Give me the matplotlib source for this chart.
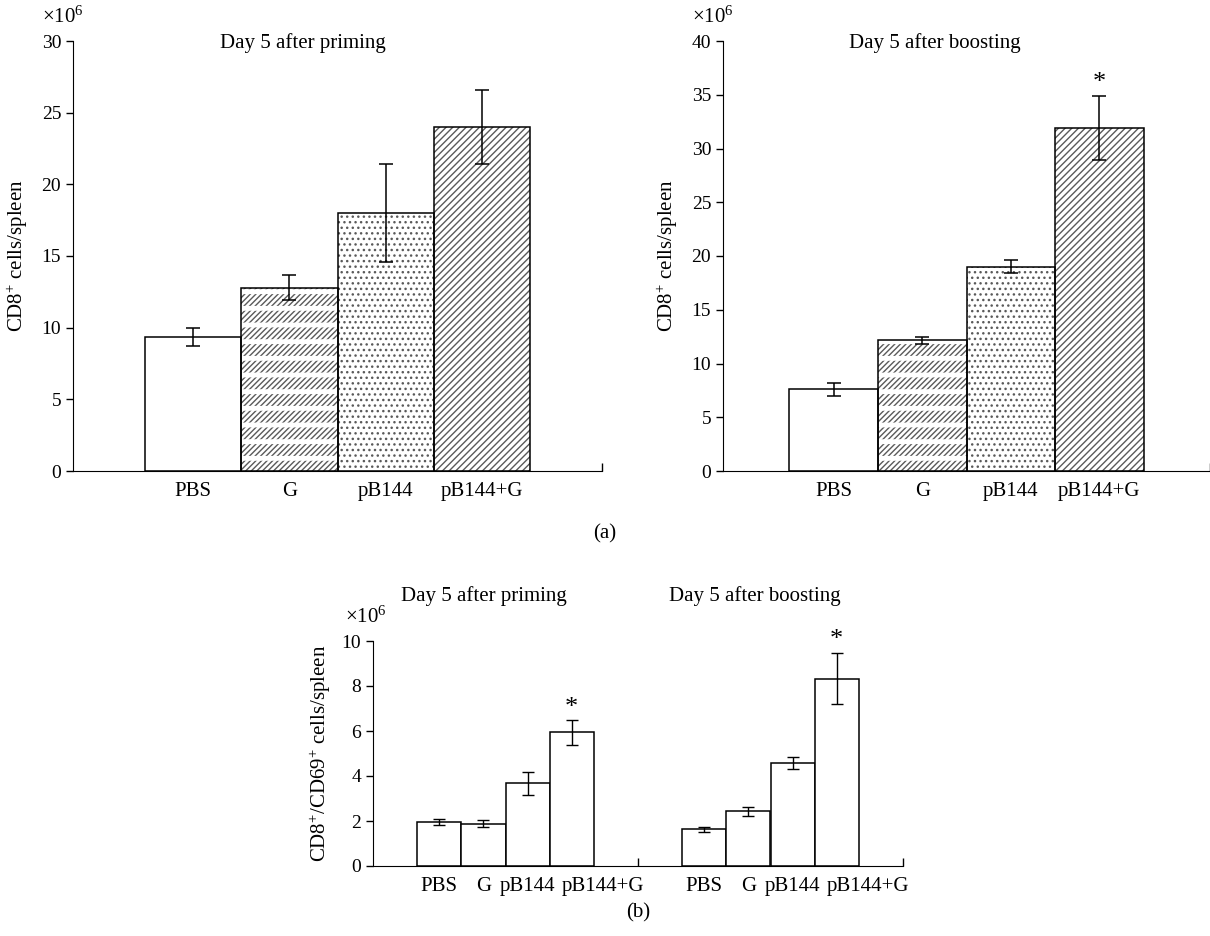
import matplotlib.pyplot as plt
import matplotlib.transforms as mtransforms
import numpy as np

plt.rcParams['font.family'] = ['Liberation Serif', 'DejaVu Serif']
plt.rcParams['mathtext.fontset'] = 'custom'
plt.rcParams['mathtext.rm'] = 'Liberation Serif'
plt.rcParams['mathtext.it'] = 'Liberation Serif:italic'
plt.rcParams['font.size'] = 15
plt.rcParams['ytick.labelsize'] = 14
plt.rcParams['hatch.linewidth'] = 1.0

# groups on the x axis
groups = ['PBS', 'G', 'pB144', 'pB144+G']

# (a) CD8+ cells per spleen (x10^6)
prime_cd8 = [9.35, 12.8, 18.0, 24.0]
prime_cd8_err = [0.6, 0.9, 3.4, 2.6]
boost_cd8 = [7.6, 12.15, 19.0, 31.9]
boost_cd8_err = [0.6, 0.3, 0.6, 3.0]

# (b) CD8+/CD69+ cells per spleen (x10^6)
prime_cd69 = [1.95, 1.88, 3.67, 5.94]
prime_cd69_err = [0.12, 0.15, 0.5, 0.55]
boost_cd69 = [1.63, 2.43, 4.57, 8.33]
boost_cd69_err = [0.11, 0.19, 0.28, 1.15]

hatch_colour = '#5a5a5a'


def style_axes(ax):
    ax.spines['top'].set_visible(False)
    ax.spines['right'].set_visible(False)
    ax.tick_params(axis='y', direction='out', length=5, width=1)
    ax.tick_params(axis='x', which='major', length=0, pad=8)
    ax.tick_params(axis='x', which='minor', direction='in', length=6, width=1)


def scale_label(ax, dx, dy):
    ax.annotate(r'$\times10^6$', (0, 1), xycoords='axes fraction',
                xytext=(dx, dy), textcoords='offset pixels',
                ha='center', va='center')


def add_star(ax, x, top):
    ax.annotate('*', (x, top), xytext=(0, 1), textcoords='offset points',
                ha='center', va='bottom', fontsize=19)


def cd8_panel(ax, values, errors, ymax, title, star):
    x = np.arange(1, 5)
    ax.bar(x, values, width=1, color='white', linewidth=0)
    # G: rows of short diagonal dashes
    ax.bar(x[1], values[1], width=1, fill=False, hatch='//////',
           edgecolor=hatch_colour, linewidth=0)
    gaps = ax.bar(x[1], values[1], width=1, fill=False, hatch='-',
                  edgecolor='white', linewidth=0)
    gaps[0].set_hatch_linewidth(3.5)
    # pB144: dots
    ax.bar(x[2], values[2], width=1, fill=False, hatch='...',
           edgecolor=hatch_colour, linewidth=0)
    # pB144+G: dense diagonal lines
    ax.bar(x[3], values[3], width=1, fill=False, hatch='/////',
           edgecolor=hatch_colour, linewidth=0)
    ax.bar(x, values, width=1, fill=False, edgecolor='black', linewidth=1.1)
    ax.errorbar(x, values, yerr=errors, fmt='none', ecolor='black',
                elinewidth=1.1, capsize=5, capthick=1.1)
    if star:
        add_star(ax, x[3], values[3] + errors[3])
    ax.set_xlim(-0.25, 5.25)
    ax.set_ylim(0, ymax)
    ax.set_yticks(np.arange(0, ymax + 1, 5))
    ax.set_xticks(x)
    ax.set_xticklabels(groups)
    ax.set_xticks([5.25], minor=True)
    ax.set_ylabel(r'CD8$^{+}$ cells/spleen', labelpad=8)
    ax.text(0.435, 0.995, title, transform=ax.transAxes, ha='center', va='center')
    style_axes(ax)
    scale_label(ax, -10, 24)


fig = plt.figure(figsize=(12.1, 9.36), dpi=100)

ax1 = fig.add_axes([73 / 1210, 465 / 936, 529 / 1210, 430 / 936])
cd8_panel(ax1, prime_cd8, prime_cd8_err, 30, 'Day 5 after priming', False)

ax2 = fig.add_axes([723 / 1210, 465 / 936, 487 / 1210, 430 / 936])
cd8_panel(ax2, boost_cd8, boost_cd8_err, 40, 'Day 5 after boosting', True)

fig.text(605 / 1210, 1 - 534 / 936, '(a)', ha='center', va='center')

# (b)
ax3 = fig.add_axes([373 / 1210, 70 / 936, 530 / 1210, 225 / 936])
xp = np.arange(1, 5)
xb = np.arange(7, 11)
ax3.bar(xp, prime_cd69, width=1, color='white', edgecolor='black', linewidth=1.1)
ax3.bar(xb, boost_cd69, width=1, color='white', edgecolor='black', linewidth=1.1)
ax3.errorbar(xp, prime_cd69, yerr=prime_cd69_err, fmt='none', ecolor='black',
             elinewidth=1.0, capsize=4, capthick=1.0)
ax3.errorbar(xb, boost_cd69, yerr=boost_cd69_err, fmt='none', ecolor='black',
             elinewidth=1.0, capsize=4, capthick=1.0)
add_star(ax3, xp[3], prime_cd69[3] + prime_cd69_err[3])
add_star(ax3, xb[3], boost_cd69[3] + boost_cd69_err[3])
ax3.set_xlim(-0.5, 11.5)
ax3.set_ylim(0, 10)
ax3.set_yticks(np.arange(0, 11, 2))
ax3.set_xticks(np.concatenate([xp, xb]))
ax3.set_xticklabels(groups + groups)
ax3.set_xticks([5.5, 11.5], minor=True)
ax3.set_ylabel(r'CD8$^{+}$/CD69$^{+}$ cells/spleen', labelpad=6)
ax3.text(2.0, 1.2, 'Day 5 after priming', transform=ax3.get_xaxis_transform(),
         ha='center', va='center')
ax3.text(8.15, 1.2, 'Day 5 after boosting', transform=ax3.get_xaxis_transform(),
         ha='center', va='center')
style_axes(ax3)
scale_label(ax3, -7, 24)

# the long labels sit to the right of their bars
shift = mtransforms.ScaledTranslation(0.31, 0, fig.dpi_scale_trans)
labels = ax3.get_xticklabels()
for i in (3, 7):
    labels[i].set_transform(labels[i].get_transform() + shift)

fig.text(638 / 1210, 1 - 913 / 936, '(b)', ha='center', va='center')

fig.savefig('out.png', dpi=100)
